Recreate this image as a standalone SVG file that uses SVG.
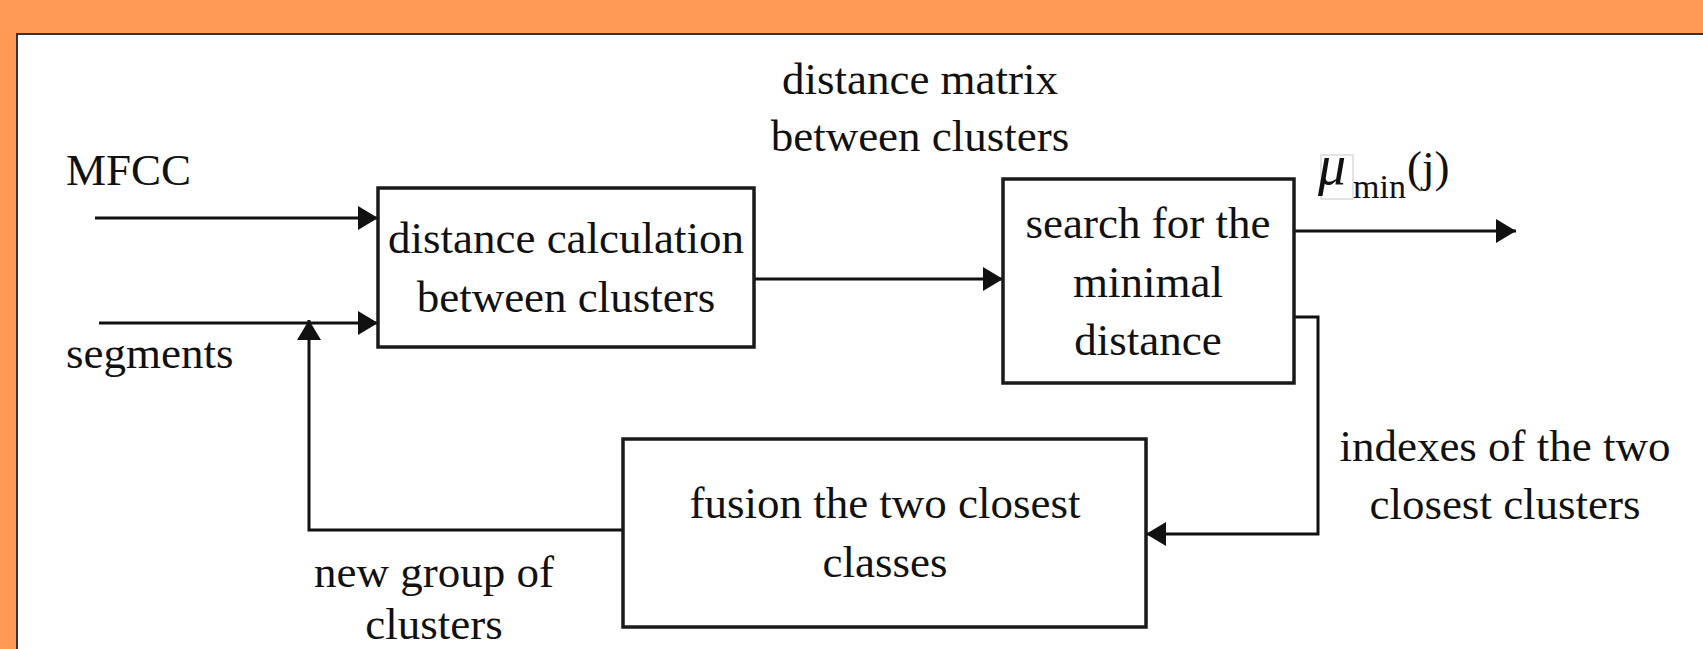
<svg xmlns="http://www.w3.org/2000/svg" width="1703" height="649" viewBox="0 0 1703 649">
  <defs>
    <marker id="arr" markerUnits="userSpaceOnUse" markerWidth="22" markerHeight="26" refX="20" refY="12" orient="auto">
      <path d="M0,0 L20,12 L0,24 Z" fill="#111"/>
    </marker>
    <style>
      .box { fill: #fff; stroke: #1a1a1a; stroke-width: 3.5; }
      .ln { fill: none; stroke: #111; stroke-width: 3; }
      .t { font-family: "Liberation Serif", "Times New Roman", serif; font-size: 45px; fill: #111; }
      .c { text-anchor: middle; }
    </style>
  </defs>
  <rect x="0" y="0" width="1703" height="649" fill="#FF9955"/>
  <rect x="17" y="34" width="1700" height="630" fill="#fff" stroke="#333" stroke-width="2"/>

  <g id="connectors">
    <line class="ln" x1="95" y1="218" x2="378" y2="218" marker-end="url(#arr)"/>
    <line class="ln" x1="99" y1="323" x2="378" y2="323" marker-end="url(#arr)"/>
    <line class="ln" x1="754" y1="279" x2="1003" y2="279" marker-end="url(#arr)"/>
    <line class="ln" x1="1294" y1="231" x2="1516" y2="231" marker-end="url(#arr)"/>
    <polyline class="ln" points="1294,317 1318,317 1318,534 1146,534" marker-end="url(#arr)"/>
    <polyline class="ln" points="623,530 309,530 309,320" marker-end="url(#arr)"/>
  </g>

  <g id="labels">
    <text class="t" x="66" y="185">MFCC</text>
    <text class="t" x="66" y="368">segments</text>
    <text class="t c" x="920" y="94">distance matrix</text>
    <text class="t c" x="920" y="151">between clusters</text>
    <g id="mu-label">
      <rect x="1321" y="155" width="32" height="44" fill="none" stroke="#c8c8c8" stroke-width="1"/>
      <text class="t" x="1318" y="184" style="font-style:italic;font-size:56px">μ</text>
      <text class="t" x="1353" y="198" style="font-size:34px">min</text>
      <text class="t" x="1407" y="182">(j)</text>
    </g>
    <text class="t c" x="1505" y="461">indexes of the two</text>
    <text class="t c" x="1505" y="519">closest clusters</text>
    <text class="t c" x="434" y="587">new group of</text>
    <text class="t c" x="434" y="639">clusters</text>
  </g>

  <g id="node-distance-calc">
    <rect class="box" x="378" y="188" width="376" height="159"/>
    <text class="t c" x="566" y="253">distance calculation</text>
    <text class="t c" x="566" y="312">between clusters</text>
  </g>

  <g id="node-search-min">
    <rect class="box" x="1003" y="179" width="291" height="204"/>
    <text class="t c" x="1148" y="238">search for the</text>
    <text class="t c" x="1148" y="297">minimal</text>
    <text class="t c" x="1148" y="355">distance</text>
  </g>

  <g id="node-fusion">
    <rect class="box" x="623" y="439" width="523" height="188"/>
    <text class="t c" x="885" y="518">fusion the two closest</text>
    <text class="t c" x="885" y="577">classes</text>
  </g>
</svg>
